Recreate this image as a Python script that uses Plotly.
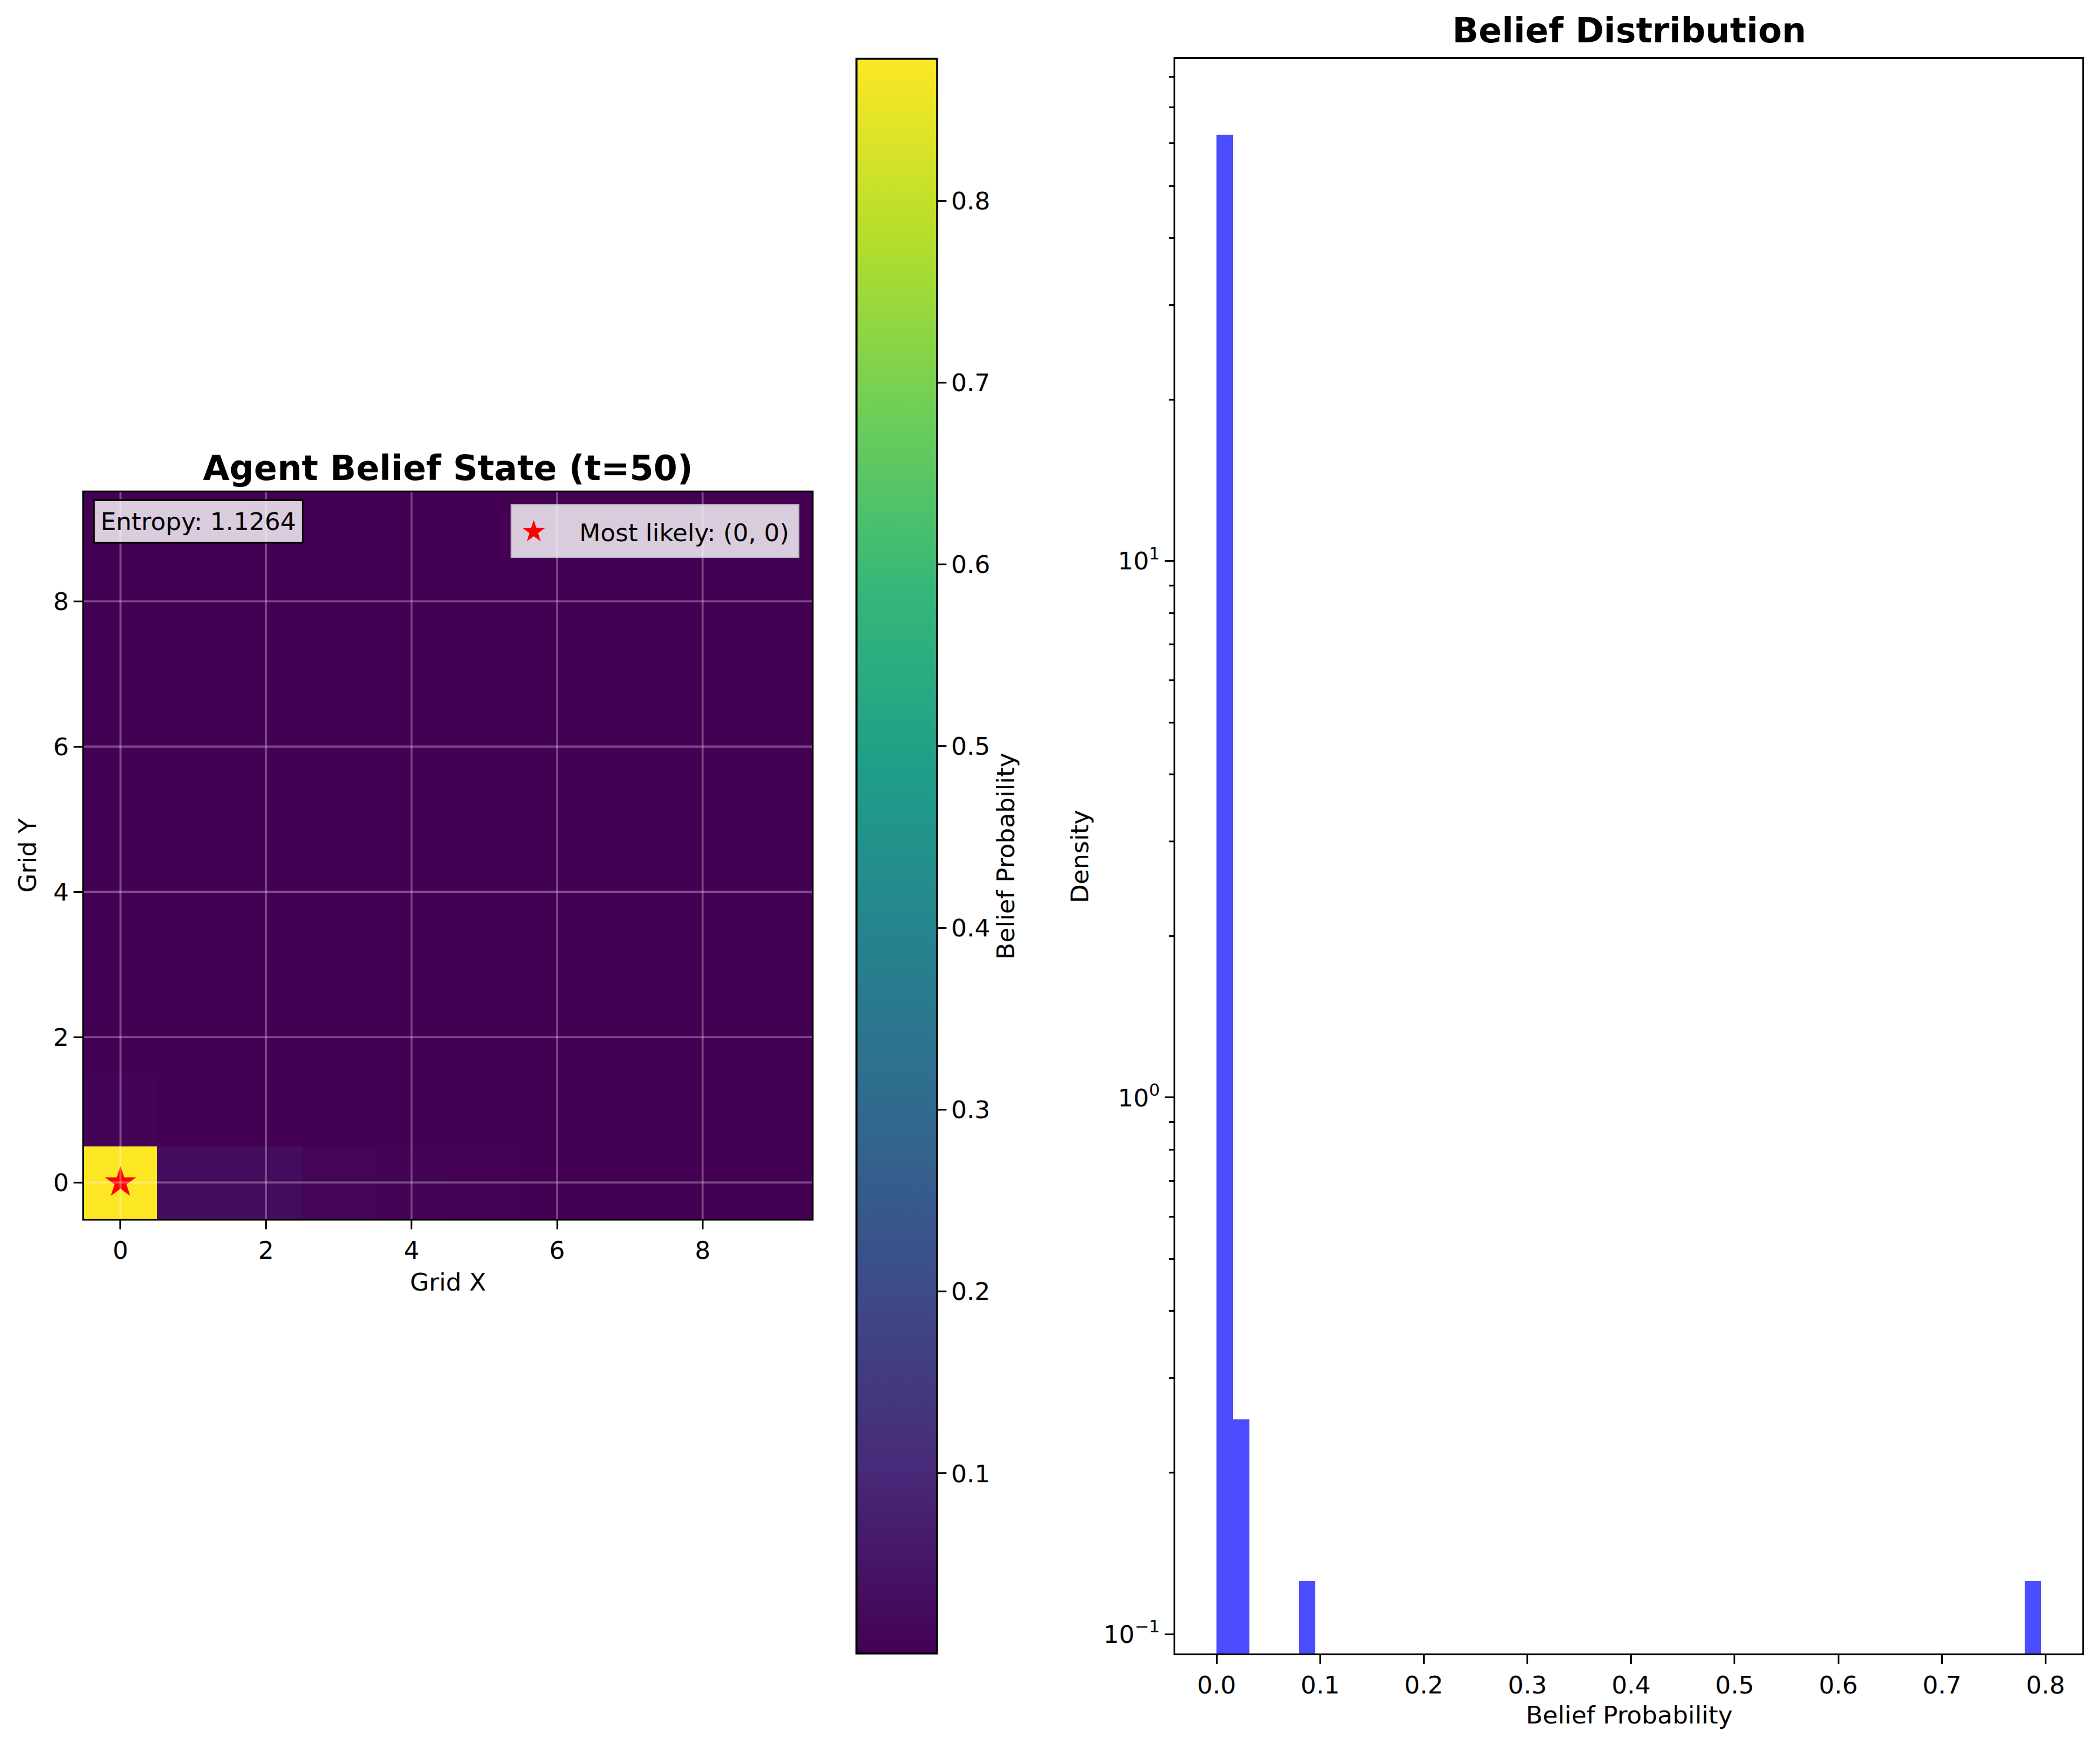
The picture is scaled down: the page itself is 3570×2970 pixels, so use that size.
import numpy as np
import plotly.graph_objects as go

W, H = 3570, 2970
FONT = "DejaVu Sans"
FS = 41.7      # 10pt at 300 dpi
FS_TITLE = 58.3
PAGE_OFFSET = 8  # default body margin of the html page

# belief grid (rows = Grid Y 0..9, cols = Grid X 0..9)
belief_grid = [
    [0.878, 0.026, 0.026, 0.010, 0.005, 0.003, 0.002, 0.001, 0.001, 0.001],
    [0.007, 0.002, 0.001, 0.001, 0.001, 0.001, 0.001, 0.001, 0.001, 0.001],
    [0.001, 0.001, 0.001, 0.001, 0.001, 0.001, 0.001, 0.001, 0.001, 0.001],
    [0.001, 0.001, 0.001, 0.001, 0.001, 0.001, 0.001, 0.001, 0.001, 0.001],
    [0.001, 0.001, 0.001, 0.001, 0.001, 0.001, 0.001, 0.001, 0.001, 0.001],
    [0.001, 0.001, 0.001, 0.001, 0.001, 0.001, 0.001, 0.001, 0.001, 0.001],
    [0.001, 0.001, 0.001, 0.001, 0.001, 0.001, 0.001, 0.001, 0.001, 0.001],
    [0.001, 0.001, 0.001, 0.001, 0.001, 0.001, 0.001, 0.001, 0.001, 0.001],
    [0.001, 0.001, 0.001, 0.001, 0.001, 0.001, 0.001, 0.001, 0.001, 0.001],
    [0.001, 0.001, 0.001, 0.001, 0.001, 0.001, 0.001, 0.001, 0.001, 0.001],
]
grid_x = list(range(10))
grid_y = list(range(10))
most_likely = (0, 0)
entropy = 1.1264

# histogram bins (non-empty ones only)
bin_width = 0.01592
bin_left = [0.0, 0.01592, 0.0796, 0.78008]
bin_count = [496, 2, 1, 1]
n_values = 500
density = [c / (n_values * bin_width) for c in bin_count]

grid_ticks = [0, 2, 4, 6, 8]
cbar_ticks = [0.1, 0.2, 0.3, 0.4, 0.5, 0.6, 0.7, 0.8]
hist_xticks = [0.0, 0.1, 0.2, 0.3, 0.4, 0.5, 0.6, 0.7, 0.8]
log_major = [0.1, 1, 10]
log_major_text = ["10<sup>\u22121</sup>", "10<sup>0</sup>", "10<sup>1</sup>"]
log_minor = [0.2, 0.3, 0.4, 0.5, 0.6, 0.7, 0.8, 0.9,
             2, 3, 4, 5, 6, 7, 8, 9, 20, 30, 40, 50, 60, 70, 80]


def px_x(x):
    return (x - PAGE_OFFSET) / W


def px_y(y):
    return 1 - (y - PAGE_OFFSET) / H


# axes boxes in pixels
hm_l, hm_r, hm_t, hm_b = 143, 1380, 837, 2072
cb_l, cb_r, cb_t, cb_b = 1456, 1593, 100, 2811
hs_l, hs_r, hs_t, hs_b = 1998, 3540, 100, 2811

fig = go.Figure()

fig.add_trace(go.Heatmap(
    z=belief_grid, x=grid_x, y=grid_y, colorscale="Viridis",
    xaxis="x", yaxis="y", showscale=True,
    colorbar=dict(
        x=px_x(cb_l), xanchor="left", xpad=0, ypad=0,
        y=px_y(cb_b), yanchor="bottom", len=(cb_b - cb_t) / H,
        thickness=cb_r - cb_l, thicknessmode="pixels",
        outlinecolor="black", outlinewidth=3.3,
        tickvals=cbar_ticks, tickformat=".1f",
        ticks="outside", ticklen=14.6, tickwidth=3.3, tickcolor="black",
        tickfont=dict(family=FONT, size=FS, color="black"),
        title=dict(text="Belief Probability", side="right",
                   font=dict(family=FONT, size=FS, color="black")),
    ),
    hoverinfo="skip",
))

fig.add_trace(go.Scatter(
    x=[most_likely[0]], y=[most_likely[1]], mode="markers",
    marker=dict(symbol="star", size=40, color="red"),
    name=f"Most likely: {most_likely}",
    xaxis="x", yaxis="y", showlegend=False,
))

fig.add_trace(go.Bar(
    x=bin_left, y=density, width=bin_width, offset=0,
    marker=dict(color="rgba(0,0,255,0.7)", line=dict(width=0)),
    xaxis="x2", yaxis="y2", showlegend=False,
))

# white grid lines above the image
for t in grid_ticks:
    fig.add_shape(type="line", xref="x", yref="y domain", x0=t, x1=t, y0=0, y1=1,
                  line=dict(color="rgba(255,255,255,0.3)", width=3.3), layer="above")
    fig.add_shape(type="line", xref="x domain", yref="y", x0=0, x1=1, y0=t, y1=t,
                  line=dict(color="rgba(255,255,255,0.3)", width=3.3), layer="above")

axis_common = dict(
    showline=True, mirror=True, linecolor="black", linewidth=3.3,
    ticks="outside", ticklen=14.6, tickwidth=3.3, tickcolor="black",
    tickfont=dict(family=FONT, size=FS, color="black"),
    showgrid=False, zeroline=False,
)

fig.update_layout(
    width=W, height=H,
    margin=dict(l=0, r=0, t=0, b=0),
    paper_bgcolor="white", plot_bgcolor="white",
    font=dict(family=FONT, size=FS, color="black"),
    bargap=0, showlegend=False,
    xaxis=dict(domain=[px_x(hm_l), px_x(hm_r)], range=[-0.5, 9.5],
               tickvals=grid_ticks, anchor="y", **axis_common),
    yaxis=dict(domain=[px_y(hm_b), px_y(hm_t)], range=[-0.5, 9.5],
               tickvals=grid_ticks, anchor="x", **axis_common),
    xaxis2=dict(domain=[px_x(hs_l), px_x(hs_r)], range=[-0.0398, 0.8355],
                tickvals=hist_xticks, tickformat=".1f", anchor="y2", **axis_common),
    yaxis2=dict(domain=[px_y(hs_b), px_y(hs_t)], type="log", range=[-1.036, 1.936],
                tickvals=log_major, ticktext=log_major_text, anchor="x2",
                minor=dict(tickvals=log_minor, ticks="outside", ticklen=8.3,
                           tickwidth=2.5, tickcolor="black"),
                **axis_common),
)

annotations = [
    dict(text="<b>Agent Belief State (t=50)</b>", x=px_x((hm_l + hm_r) / 2), y=px_y(796),
         font=dict(size=FS_TITLE)),
    dict(text="<b>Belief Distribution</b>", x=px_x((hs_l + hs_r) / 2), y=px_y(52),
         font=dict(size=FS_TITLE)),
    dict(text="Grid X", x=px_x((hm_l + hm_r) / 2), y=px_y(2179)),
    dict(text="Grid Y", x=px_x(46), y=px_y((hm_t + hm_b) / 2), textangle=-90),
    dict(text="Density", x=px_x(1835), y=px_y((hs_t + hs_b) / 2), textangle=-90),
    dict(text="Belief Probability", x=px_x((hs_l + hs_r) / 2), y=px_y(2915)),
]
for a in annotations:
    a.setdefault("font", dict(size=FS))
    a["font"]["family"] = FONT
    a["font"]["color"] = "black"
    fig.add_annotation(xref="paper", yref="paper", showarrow=False,
                       xanchor="center", yanchor="middle", **a)

# entropy text box
fig.add_annotation(
    text=f"Entropy: {entropy:.4f}", xref="paper", yref="paper",
    x=px_x(158), y=px_y(849), xanchor="left", yanchor="top", showarrow=False,
    font=dict(family=FONT, size=FS, color="black"),
    bgcolor="rgba(255,255,255,0.8)", bordercolor="black", borderwidth=3, borderpad=10,
)

# legend box (drawn as annotation so the star can be full size)
fig.add_annotation(
    text=("<span style='color:red;font-size:50px'>\u2605</span>"
          f"\u2003 Most likely: {most_likely}"),
    xref="paper", yref="paper",
    x=px_x(1359), y=px_y(857), xanchor="right", yanchor="top", showarrow=False,
    font=dict(family=FONT, size=FS, color="black"),
    bgcolor="rgba(255,255,255,0.8)", bordercolor="rgba(204,204,204,0.8)",
    borderwidth=3, borderpad=14,
)

fig.write_html("out.html")
